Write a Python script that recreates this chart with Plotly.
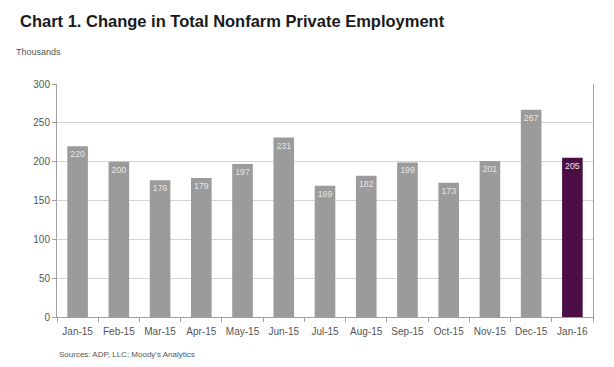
import plotly.graph_objects as go

categories = ["Jan-15", "Feb-15", "Mar-15", "Apr-15", "May-15", "Jun-15", "Jul-15",
              "Aug-15", "Sep-15", "Oct-15", "Nov-15", "Dec-15", "Jan-16"]
values = [220, 200, 176, 179, 197, 231, 169, 182, 199, 173, 201, 267, 205]
bar_colors = ["#9b9b9b"] * 12 + ["#4b0f45"]
y_ticks = [0, 50, 100, 150, 200, 250, 300]

fig = go.Figure(go.Bar(
    x=categories, y=values,
    marker=dict(color=bar_colors, line=dict(width=0)),
    text=[str(v) for v in values],
    textposition="inside", insidetextanchor="end", textangle=0,
    textfont=dict(color="#e6e6e6", size=11, family="Liberation Sans, Arial"),
    cliponaxis=False,
))

# page body has an 8px default margin, so the figure is sized/offset to compensate
fig.update_layout(
    width=606, height=359,
    margin=dict(l=49, r=21, t=76, b=50, autoexpand=False),
    paper_bgcolor="white", plot_bgcolor="white",
    bargap=0.5,
    showlegend=False,
    font=dict(family="Liberation Sans, Arial", size=10, color="#555555"),
    annotations=[
        dict(text="<b>Chart 1. Change in Total Nonfarm Private Employment</b>",
             xref="paper", yref="paper", x=-0.073, y=1.27, xanchor="left", yanchor="middle",
             showarrow=False, font=dict(size=16.5, color="#1a1a1a", family="Liberation Sans, Arial")),
        dict(text="Thousands", xref="paper", yref="paper", x=-0.08, y=1.137,
             xanchor="left", yanchor="middle", showarrow=False,
             font=dict(size=9, color="#555555")),
        dict(text="Sources: ADP, LLC; Moody's Analytics", xref="paper", yref="paper",
             x=0.0, y=-0.159, xanchor="left", yanchor="middle", showarrow=False,
             font=dict(size=8, color="#555555")),
    ],
)
fig.update_xaxes(
    showline=True, linecolor="#a0a0a0", linewidth=1, automargin=False,
    ticks="outside", tickson="boundaries", ticklen=4, tickcolor="#a0a0a0",
    ticklabelstandoff=5,
    tickangle=0, tickfont=dict(size=10, color="#555555"), showgrid=False,
)
fig.update_yaxes(
    range=[0, 300], tickvals=y_ticks, showgrid=True, gridcolor="#d4d4d4",
    showline=True, linecolor="#a0a0a0", linewidth=1, mirror=True, automargin=False,
    ticks="outside", ticklen=4, tickcolor="#a0a0a0",
    tickfont=dict(size=10, color="#555555"), zeroline=False,
)

fig.write_html("out.html")
